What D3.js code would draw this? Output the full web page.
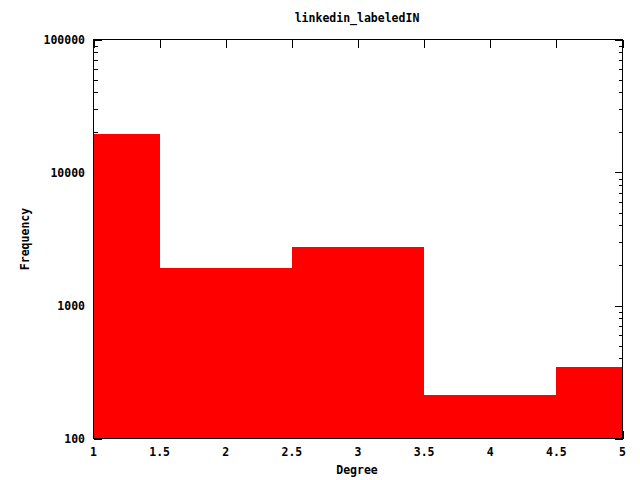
<!DOCTYPE html>
<html><head><meta charset="utf-8">
<script src="https://cdn.jsdelivr.net/npm/d3@7"></script>
<style>body{margin:0;background:#fff}svg{display:block}text{font-family:"DejaVu Sans Mono",monospace;font-weight:bold;font-size:11.5px;fill:#000}</style>
</head><body>
<script>
const degrees = [1, 2, 3, 4, 5];
const frequency = [19540, 1908, 2744, 212, 344];
const xTicks = [1, 1.5, 2, 2.5, 3, 3.5, 4, 4.5, 5];
const xTickLabels = ["1", "1.5", "2", "2.5", "3", "3.5", "4", "4.5", "5"];
const yTicks = [100, 1000, 10000, 100000];
const yTickLabels = ["100", "1000", "10000", "100000"];
const title = "linkedin_labeledIN";
const xTitle = "Degree";
const yTitle = "Frequency";

const W = 640, H = 480;
const L = 93.5, R = 622.5, T = 39.5, B = 438.5;
const svg = d3.select("body").append("svg").attr("width", W).attr("height", H)
  .attr("shape-rendering", "crispEdges");
const x = d3.scaleLinear().domain([1, 5]).range([L, R]);
const y = d3.scaleLog().domain([100, 100000]).range([B, T]);

svg.append("defs").append("clipPath").attr("id", "c").append("rect")
  .attr("x", L).attr("y", T).attr("width", R - L).attr("height", B - T);

const g = svg.append("g").attr("stroke", "#000").attr("stroke-width", 1).attr("fill", "none");
xTicks.forEach(t => {
  const px = Math.round(x(t)) + 0.5;
  g.append("line").attr("x1", px).attr("x2", px).attr("y1", B).attr("y2", B - 8);
  g.append("line").attr("x1", px).attr("x2", px).attr("y1", T).attr("y2", T + 8);
});
const minor = [];
for (let e = 100; e < 100000; e *= 10) for (let k = 2; k <= 9; k++) minor.push(e * k);
yTicks.forEach(t => {
  const py = Math.round(y(t)) + 0.5;
  g.append("line").attr("x1", L).attr("x2", L + 8).attr("y1", py).attr("y2", py);
  g.append("line").attr("x1", R).attr("x2", R - 8).attr("y1", py).attr("y2", py);
});
minor.forEach(t => {
  const py = Math.round(y(t)) + 0.5;
  g.append("line").attr("x1", L).attr("x2", L + 4).attr("y1", py).attr("y2", py);
  g.append("line").attr("x1", R).attr("x2", R - 4).attr("y1", py).attr("y2", py);
});

svg.append("g").attr("clip-path", "url(#c)").selectAll("rect").data(degrees).join("rect")
  .attr("x", d => Math.round(x(d - 0.5))).attr("width", d => Math.round(x(d + 0.5)) - Math.round(x(d - 0.5)))
  .attr("y", (d, i) => Math.round(y(frequency[i]))).attr("height", (d, i) => B + 1 - Math.round(y(frequency[i])))
  .attr("fill", "#ff0000");

svg.append("rect").attr("x", L).attr("y", T).attr("width", R - L).attr("height", B - T)
  .attr("fill", "none").attr("stroke", "#000");

svg.append("g").selectAll("text").data(xTicks).join("text")
  .attr("x", d => x(d)).attr("y", 456).attr("text-anchor", "middle").text((d, i) => xTickLabels[i]);
svg.append("g").selectAll("text").data(yTicks).join("text")
  .attr("x", 85).attr("y", d => y(d) + 4).attr("text-anchor", "end").text((d, i) => yTickLabels[i]);

svg.append("text").attr("x", 357).attr("y", 22).attr("text-anchor", "middle").text(title);
svg.append("text").attr("x", 357).attr("y", 474).attr("text-anchor", "middle").text(xTitle);
svg.append("text").attr("transform", "translate(29,239) rotate(-90)").attr("text-anchor", "middle").text(yTitle);
</script>
</body></html>
